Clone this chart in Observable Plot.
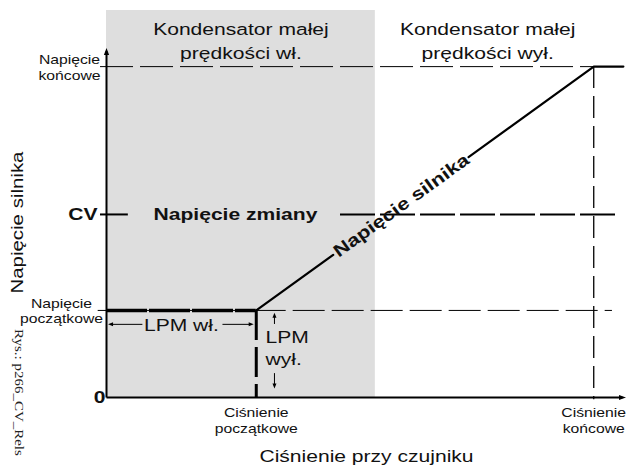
<!DOCTYPE html>
<html>
<head>
<meta charset="utf-8">
<script src="https://cdn.jsdelivr.net/npm/d3@7"></script>
<script src="https://cdn.jsdelivr.net/npm/@observablehq/plot@0.6"></script>
<style>
  html, body { margin: 0; padding: 0; background: #fff; }
  #chart svg { display: block; }
</style>
</head>
<body>
<div id="chart"></div>
<script>
// ---- Data (normalized 0–100 units) ----
// Pressure at the sensor (x)
const pressureStart = 28.8;   // Ciśnienie początkowe
const pressureEnd = 93.7;     // Ciśnienie końcowe
const pressureMax = 99.4;     // end of drawn voltage plateau
const shadeEnd = 51.7;        // end of "Kondensator małej prędkości wł." zone
// Motor voltage (y)
const voltageStart = 22.5;    // Napięcie początkowe
const voltageCV = 47.3;       // CV – Napięcie zmiany
const voltageEnd = 85.5;      // Napięcie końcowe
const voltageTop = 100;

// Text labels
const zoneLabels = ["Kondensator małej\nprędkości wł.", "Kondensator małej\nprędkości wył."];
const yTickLabels = ["Napięcie\nkońcowe", "CV", "Napięcie\npoczątkowe", "0"];
const xTickLabels = ["Ciśnienie\npoczątkowe", "Ciśnienie\nkońcowe"];
const xTitle = "Ciśnienie przy czujniku";
const yTitle = "Napięcie silnika";
const curveLabel = "Napięcie silnika";
const cvLabel = "Napięcie zmiany";
const lpmOnLabel = "LPM wł.";
const lpmOffLabel = "LPM\nwył.";
const figureId = "Rys.: p266_CV_Rels";

// ---- Layout ----
const W = 626, H = 470, mL = 106, mR = 0, mT = 10, mB = 73;
const sans = "Liberation Sans, Arial, Helvetica, sans-serif";
const serif = "Liberation Serif, Times New Roman, serif";
const ink = "#111";

// motor voltage curve, broken where its label sits
const lerp = (a, b, t) => a + (b - a) * t;
const slopeAt = t => ({p: lerp(pressureStart, pressureEnd, t), v: lerp(voltageStart, voltageEnd, t)});
const gapFrom = 0.228, gapTo = 0.629, labelAt = 0.43;
const motorLow = [slopeAt(0), slopeAt(gapFrom)];
const motorHigh = [slopeAt(gapTo), slopeAt(1), {p: pressureMax, v: voltageEnd}];
const pxX = (W - mL - mR) / 100, pxY = (H - mT - mB) / 100;
const curveAngle = -Math.atan2((voltageEnd - voltageStart) * pxY, (pressureEnd - pressureStart) * pxX) * 180 / Math.PI;

// filled arrowheads with tip at the origin
const head = (dir, len, hw) => ({
  draw(ctx) {
    const [ux, uy] = {up: [0, -1], down: [0, 1], left: [-1, 0], right: [1, 0]}[dir];
    const bx = -ux * len, by = -uy * len;
    ctx.moveTo(0, 0);
    ctx.lineTo(bx - uy * hw, by + ux * hw);
    ctx.lineTo(bx + uy * hw, by - ux * hw);
    ctx.closePath();
  }
});

const lpmY = 18.9;
const one = [0];

const chart = Plot.plot({
  width: W, height: H,
  marginLeft: mL, marginRight: mR, marginTop: mT, marginBottom: mB,
  x: {domain: [0, 100], axis: null},
  y: {domain: [0, 100], axis: null},
  style: {fontFamily: sans, background: "#fff", overflow: "visible", color: ink},
  marks: [
    // shaded zone
    Plot.rect(one, {x1: 0, x2: shadeEnd, y1: 0, y2: voltageTop, fill: "#dedede"}),

    // guide lines
    Plot.ruleY([voltageEnd], {x1: -1.15, x2: pressureEnd, stroke: "#000", strokeWidth: 1, strokeDasharray: "33,7"}),
    Plot.ruleY([voltageStart], {x1: -1.6, x2: 97.3, stroke: "#000", strokeWidth: 1, strokeDasharray: "32,7"}),
    Plot.ruleY([voltageCV], {x1: 45, x2: 97.9, stroke: "#000", strokeWidth: 2, strokeDasharray: "35,5"}),
    Plot.ruleY([voltageCV], {x1: -1.15, x2: 4.2, stroke: "#000", strokeWidth: 2}),
    Plot.ruleX([pressureEnd], {y1: voltageEnd, y2: -0.6, stroke: "#000", strokeWidth: 1.3, strokeDasharray: "22,8"}),
    Plot.ruleX([pressureStart], {y1: voltageStart, y2: 0, stroke: "#000", strokeWidth: 3, strokeDasharray: "30,7"}),
    Plot.ruleY([voltageStart], {x1: 0, x2: pressureStart, stroke: "#000", strokeWidth: 3.5, strokeDasharray: "41,2"}),

    // axes
    Plot.link(one, {x1: 0, y1: 0, x2: 0, y2: 89.5, stroke: "#000", strokeWidth: 2}),
    Plot.link(one, {x1: 0, y1: 0, x2: 99.2, y2: 0, stroke: "#000", strokeWidth: 2}),
    Plot.dot(one, {x: 0, y: 90.3, r: 1, symbol: head("up", 7, 2.6), fill: "#000", stroke: "none"}),
    Plot.dot(one, {x: 99.9, y: 0, r: 1, symbol: head("right", 7, 2.6), fill: "#000", stroke: "none"}),

    // motor voltage curve
    Plot.line(motorLow, {x: "p", y: "v", stroke: "#000", strokeWidth: 2.2}),
    Plot.line(motorHigh, {x: "p", y: "v", stroke: "#000", strokeWidth: 2.2}),

    // LPM arrows
    Plot.link(one, {x1: 6.9, y1: lpmY, x2: 0.8, y2: lpmY, stroke: "#000", strokeWidth: 1}),
    Plot.link(one, {x1: 22.3, y1: lpmY, x2: 27.5, y2: lpmY, stroke: "#000", strokeWidth: 1}),
    Plot.dot(one, {x: 0.3, y: lpmY, r: 1, symbol: head("left", 5, 2), fill: "#000", stroke: "none"}),
    Plot.dot(one, {x: 28.3, y: lpmY, r: 1, symbol: head("right", 5, 2), fill: "#000", stroke: "none"}),
    Plot.link(one, {x1: 32.3, y1: 19.0, x2: 32.3, y2: 21.2, stroke: "#000", strokeWidth: 1}),
    Plot.link(one, {x1: 32.3, y1: 6.3, x2: 32.3, y2: 3.0, stroke: "#000", strokeWidth: 1}),
    Plot.dot(one, {x: 32.3, y: 21.9, r: 1, symbol: head("up", 5, 2), fill: "#000", stroke: "none"}),
    Plot.dot(one, {x: 32.3, y: 2.3, r: 1, symbol: head("down", 5, 2), fill: "#000", stroke: "none"}),

    // zone titles
    Plot.text([zoneLabels[0]], {x: shadeEnd / 2, y: 87.4, text: d => d, fontSize: 17, lineHeight: 1.4, lineAnchor: "bottom", fill: ink}),
    Plot.text([zoneLabels[1]], {x: 73.3, y: 87.4, text: d => d, fontSize: 17, lineHeight: 1.4, lineAnchor: "bottom", fill: ink}),

    // y tick labels
    Plot.text([yTickLabels[0]], {x: 0, y: voltageEnd, dx: -37, text: d => d, fontSize: 12.7, lineHeight: 1.25, fill: ink}),
    Plot.text([yTickLabels[1]], {x: 0, y: voltageCV, dx: -9, text: d => d, textAnchor: "end", fontSize: 17, fontWeight: "bold", fill: ink}),
    Plot.text([yTickLabels[2]], {x: 0, y: voltageStart, dx: -45, text: d => d, fontSize: 12.7, lineHeight: 1.25, fill: ink}),
    Plot.text([yTickLabels[3]], {x: 0, y: 0, dx: -7, text: d => d, fontSize: 17, fontWeight: "bold", fill: ink}),

    // x tick labels
    Plot.text([xTickLabels[0]], {x: pressureStart, y: 0, dy: 8.7, text: d => d, lineAnchor: "top", fontSize: 12.7, lineHeight: 1.25, fill: ink}),
    Plot.text([xTickLabels[1]], {x: pressureEnd, y: 0, dy: 8.7, text: d => d, lineAnchor: "top", fontSize: 12.7, lineHeight: 1.25, fill: ink}),

    // axis titles
    Plot.text([xTitle], {frameAnchor: "bottom", dy: 64, lineAnchor: "bottom", text: d => d, fontSize: 17, fill: ink}),
    Plot.text([yTitle], {x: 0, y: 45.2, dx: -89, rotate: -90, text: d => d, fontSize: 16.5, fill: ink}),

    // annotations
    Plot.text([cvLabel], {x: 24.8, y: voltageCV, text: d => d, fontSize: 17, fontWeight: "bold", fill: ink}),
    Plot.text([curveLabel], {x: slopeAt(labelAt).p, y: slopeAt(labelAt).v, rotate: curveAngle, text: d => d, fontSize: 17.5, fontWeight: "bold", fill: ink}),
    Plot.text([lpmOnLabel], {x: pressureStart / 2, y: lpmY, dy: 1, text: d => d, fontSize: 17, fill: ink}),
    Plot.text([lpmOffLabel], {x: 30.6, y: 8.3, text: d => d, textAnchor: "start", lineAnchor: "bottom", lineHeight: 1.3, fontSize: 17, fill: ink}),

    // figure id
    Plot.text([figureId], {x: 0, y: 1.3, dx: -87, rotate: 90, text: d => d, fontSize: 12.5, fontFamily: serif, fill: "#222"})
  ]
});

// the original lettering is horizontally expanded (~124% sans, ~120% serif id)
d3.select(chart).selectAll("text").each(function () {
  const g = this.closest("[font-family]");
  const isSerif = g && g !== chart && /Serif/.test(g.getAttribute("font-family"));
  const t = this.getAttribute("transform") || "";
  this.setAttribute("transform", t + (isSerif ? " scale(1.2,1)" : " scale(1.24,1)"));
});

document.getElementById("chart").appendChild(chart);
</script>
</body>
</html>
